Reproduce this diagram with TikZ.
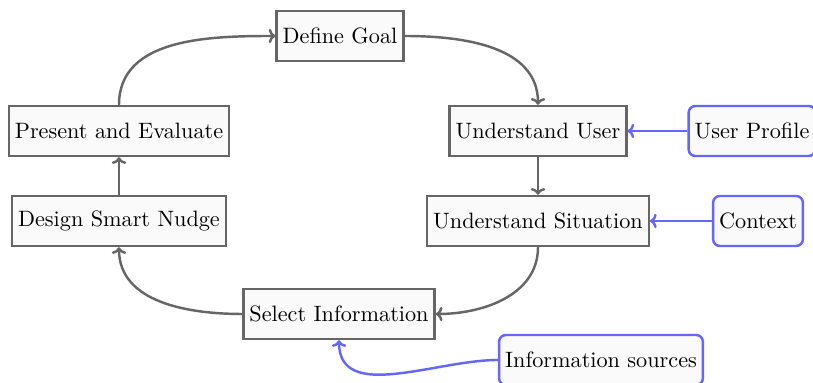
\documentclass[tikz,border=0pt]{standalone}
\usetikzlibrary{arrows.meta}
\definecolor{boxgray}{HTML}{666666}
\definecolor{boxfill}{HTML}{FAFAFA}
\definecolor{srcblue}{HTML}{6666FF}
\begin{document}
\begin{tikzpicture}[x=0.45pt,y=-0.45pt,
  stepbox/.style={draw=boxgray,fill=boxfill,line width=1.1pt,minimum height=22.5pt,inner xsep=2.7pt},
  srcbox/.style={draw=srcblue,fill=boxfill,line width=1.1pt,rounded corners=3pt,minimum height=22.5pt,inner xsep=2.7pt},
  flow/.style={draw=boxgray,line width=1.1pt,-{To[length=3pt,width=6.5pt]}},
  feed/.style={draw=srcblue,line width=1.1pt,-{To[length=3pt,width=6.5pt]}}]
\useasboundingbox (0,0) rectangle (813,383);
\node[stepbox] (goal) at (340,36) {Define Goal};
\node[stepbox] (user) at (538,131) {Understand User};
\node[stepbox] (sit) at (538,221) {Understand Situation};
\node[stepbox] (sel) at (339,314) {Select Information};
\node[stepbox] (nudge) at (119,221) {Design Smart Nudge};
\node[stepbox] (eval) at (119,131) {Present and Evaluate};
\node[srcbox] (prof) at (752,131) {User Profile};
\node[srcbox] (ctx) at (758,221) {Context};
\node[srcbox] (info) at (601,360) {Information sources};
\draw[flow] (goal.east) to[out=0,in=90] (user.north);
\draw[flow] (user.south) -- (sit.north);
\draw[flow] (sit.south) to[out=-90,in=0] (sel.east);
\draw[flow] (sel.west) to[out=180,in=-90] (nudge.south);
\draw[flow] (nudge.north) -- (eval.south);
\draw[flow] (eval.north) to[out=90,in=180] (goal.west);
\draw[feed] (prof.west) -- (user.east);
\draw[feed] (ctx.west) -- (sit.east);
\draw[feed] (info.west) to[out=180,in=-90] (sel.south);
\end{tikzpicture}
\end{document}
